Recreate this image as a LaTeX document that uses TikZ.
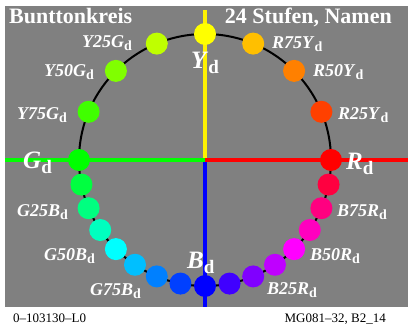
\documentclass[tikz,border=0pt]{standalone}
\usepackage{fontspec}
\setmainfont{Liberation Serif}
\usepackage{tikz}

\definecolor{bggray}{RGB}{128,128,128}
\newcommand{\huelbl}[1]{\textbf{\textit{#1}}\raisebox{-3pt}{\fontsize{14}{14}\selectfont\bfseries d}}
\newcommand{\axislbl}[1]{\textbf{\textit{#1}}\raisebox{-5pt}{\fontsize{19}{19}\selectfont\bfseries d}}

\begin{document}
\begin{tikzpicture}[x=1pt, y=1pt,
		huedot/.style={circle, inner sep=0pt, minimum size=22pt},
		huetext/.style={text=white, inner sep=0pt, font=\fontsize{18}{18}\selectfont},
		axistext/.style={text=white, inner sep=0pt, font=\fontsize{25}{25}\selectfont},
		titletext/.style={text=white, inner sep=0pt, font=\fontsize{22}{22}\selectfont\bfseries},
		foottext/.style={text=black, inner sep=0pt, font=\fontsize{13}{13}\selectfont},
		axis/.style={line width=3.5pt}]
		\useasboundingbox (-205,-165) rectangle (208,160);
		\fill[bggray] (-200,-147) rectangle (203,154);

		\coordinate (o) at (0,0);
		\coordinate (ytop) at (0,150);
		\coordinate (bbot) at (0,-147);
		\coordinate (gleft) at (-200,0);
		\coordinate (rright) at (203,0);
		\draw[axis, yellow] (o) -- (ytop);
		\draw[axis, blue] (o) -- (bbot);
		\draw[axis, green] (gleft) -- (o);
		\draw[axis, red] (o) -- (rright);

		\draw[line width=2pt] (o) circle[radius=126];
		\foreach \a/\r/\g/\b [count=\i] in {0/255/0/0, 22.5/255/64/0, 45/255/128/0, 67.5/255/191/0,
				90/255/255/0, 112.5/191/255/0, 135/128/255/0, 157.5/64/255/0, 180/0/255/0,
				191.25/0/255/64, 202.5/0/255/128, 213.75/0/255/191, 225/0/255/255,
				236.25/0/191/255, 247.5/0/128/255, 258.75/0/64/255, 270/0/0/255,
				281.25/64/0/255, 292.5/128/0/255, 303.75/191/0/255, 315/255/0/255,
				326.25/255/0/191, 337.5/255/0/128, 348.75/255/0/64}
			\node[huedot, fill={rgb,255:red,\r;green,\g;blue,\b}] (c\i) at (\a:126) {};

		\node[huetext, anchor=base east] (y25g) at (-73,113) {\huelbl{Y25G}};
		\node[huetext, anchor=base east] (y50g) at (-111,84) {\huelbl{Y50G}};
		\node[huetext, anchor=base east] (y75g) at (-138,41) {\huelbl{Y75G}};
		\node[huetext, anchor=base west] (r75y) at (67,112) {\huelbl{R75Y}};
		\node[huetext, anchor=base west] (r50y) at (108,84) {\huelbl{R50Y}};
		\node[huetext, anchor=base west] (r25y) at (133,41) {\huelbl{R25Y}};
		\node[huetext, anchor=base east] (g25b) at (-137,-56) {\huelbl{G25B}};
		\node[huetext, anchor=base east] (g50b) at (-110,-100) {\huelbl{G50B}};
		\node[huetext, anchor=base east] (g75b) at (-64,-135) {\huelbl{G75B}};
		\node[huetext, anchor=base west] (b75r) at (132,-56) {\huelbl{B75R}};
		\node[huetext, anchor=base west] (b50r) at (105,-100) {\huelbl{B50R}};
		\node[huetext, anchor=base west] (b25r) at (62,-134) {\huelbl{B25R}};

		\node[axistext, anchor=base west] (ylbl) at (-14,92) {\axislbl{Y}};
		\node[axistext, anchor=base west] (blbl) at (-18,-108) {\axislbl{B}};
		\node[axistext, anchor=base west] (glbl) at (-182,-8) {\axislbl{G}};
		\node[axistext, anchor=base west] (rlbl) at (141,-9) {\axislbl{R}};

		\node[titletext, anchor=base west] (title) at (-196,137) {Bunttonkreis};
		\node[titletext, anchor=base east] (subtitle) at (187,137) {24 Stufen, Namen};
		\node[foottext, anchor=base west] (footl) at (-192,-162) {0--103130--L0};
		\node[foottext, anchor=base east] (footr) at (181,-162) {MG081--32, B2\_14};
	\end{tikzpicture}
\end{document}
